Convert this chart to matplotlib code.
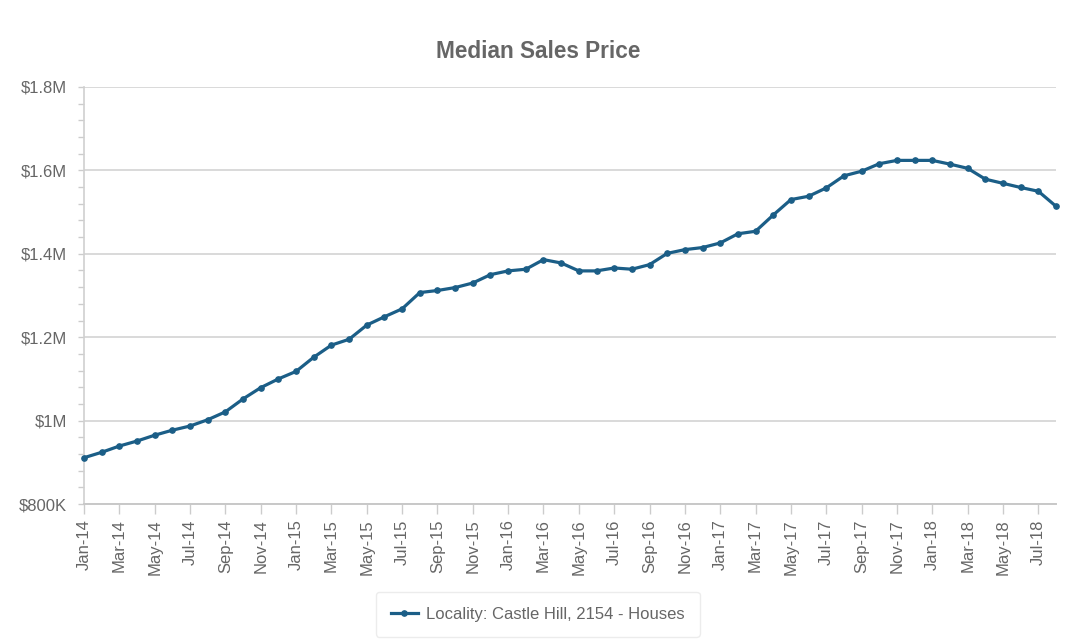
import matplotlib
matplotlib.use("Agg")
import matplotlib.pyplot as plt
from matplotlib.ticker import MultipleLocator

plt.rcParams['font.family'] = ['Liberation Sans', 'DejaVu Sans']

months = ['Jan', 'Feb', 'Mar', 'Apr', 'May', 'Jun', 'Jul', 'Aug', 'Sep', 'Oct', 'Nov', 'Dec']
years = ['14', '15', '16', '17', '18']
periods = [f"{m}-{y}" for y in years for m in months][:56]   # Jan-14 .. Aug-18

prices = [
    911000, 924000, 939000, 951000, 965000, 977000, 987000, 1002000, 1021000, 1052000, 1079000, 1100000,
    1118000, 1152000, 1181000, 1195000, 1229000, 1249000, 1268000, 1307000, 1312000, 1319000, 1330000, 1350000,
    1359000, 1363000, 1386000, 1378000, 1359000, 1359000, 1366000, 1363000, 1374000, 1401000, 1410000, 1415000,
    1426000, 1448000, 1454000, 1493000, 1530000, 1538000, 1558000, 1587000, 1598000, 1616000, 1624000, 1624000,
    1624000, 1615000, 1605000, 1579000, 1569000, 1559000, 1550000, 1514000,
]

ytick_values = [800000, 1000000, 1200000, 1400000, 1600000, 1800000]
ytick_labels = ['$800K', '$1M', '$1.2M', '$1.4M', '$1.6M', '$1.8M']

series_label = 'Locality: Castle Hill, 2154 - Houses'
title = 'Median Sales Price'

line_color = '#1b5e87'
text_color = '#666666'
grid_color = '#d9d9d9'

fig = plt.figure(figsize=(10.8, 6.43), dpi=100)
ax = fig.add_axes([84/1080, 1 - 504/643, (1056 - 84)/1080, (504 - 87)/643])

x = list(range(len(prices)))
line, = ax.plot(x, prices, color=line_color, linewidth=2.3, marker='o', markersize=3.8,
                markeredgecolor=line_color, markerfacecolor=line_color, label=series_label,
                solid_joinstyle='round', zorder=3, clip_on=False)

ax.set_xlim(0, len(prices) - 1)
ax.set_ylim(ytick_values[0], ytick_values[-1])

ax.set_yticks(ytick_values)
ax.set_yticklabels(ytick_labels)
ax.yaxis.set_minor_locator(MultipleLocator(40000))

xt = list(range(0, len(prices), 2))
ax.set_xticks(xt)
ax.set_xticklabels([periods[i] for i in xt], rotation=90)

ax.grid(axis='y', which='major', color=grid_color, linewidth=1.4)
ax.set_axisbelow(True)

for s in ['top', 'right']:
    ax.spines[s].set_visible(False)
ax.spines['left'].set_color('#d0d0d0')
ax.spines['bottom'].set_color('#c8c8c8')
ax.spines['left'].set_linewidth(1.2)
ax.spines['bottom'].set_linewidth(1.4)

ax.tick_params(axis='y', which='major', length=4, width=1, color='#cccccc', pad=8,
               labelsize=12, labelcolor=text_color)
ax.tick_params(axis='y', which='minor', length=4, width=1, color='#cccccc')
ax.tick_params(axis='x', which='major', length=7, width=1, color='#cccccc', pad=4,
               labelsize=12, labelcolor=text_color)

fig.text(0.498, 1 - 52/643, title, ha='center', va='center', fontsize=16.3,
         fontweight='bold', color=text_color)

leg = fig.legend(handles=[line], loc='center', bbox_to_anchor=(0.498, 1 - 614/643),
                 frameon=True, fontsize=12, handlelength=1.6, handletextpad=0.5,
                 borderpad=0.9, labelcolor=text_color)
leg.get_frame().set_edgecolor('#e8e8e8')
leg.get_frame().set_linewidth(1.0)

fig.savefig('out.png', dpi=100, facecolor='white')
